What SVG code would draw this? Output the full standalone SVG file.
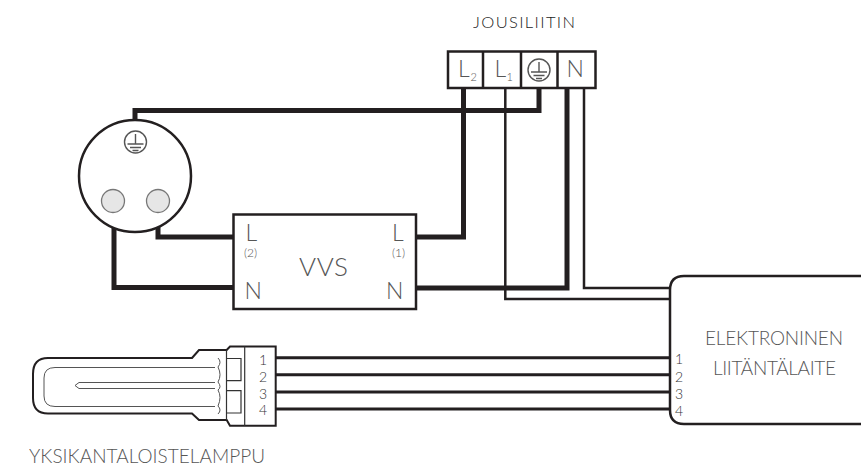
<svg xmlns="http://www.w3.org/2000/svg" xmlns:xlink="http://www.w3.org/1999/xlink" width="861" height="466" viewBox="0 0 861 466">
<style>
text{font-family:"Lato","Liberation Sans",sans-serif;font-weight:300;fill:#555;opacity:.99}
.blk{fill:#231f20}
.box{fill:#fff;stroke:#231f20;stroke-width:2.5}
.thick{fill:none;stroke:#231f20;stroke-width:5}
.thin{fill:none;stroke:#231f20;stroke-width:2.5}
.fine{fill:none;stroke:#555;stroke-width:1}
.sym{fill:none;stroke:#555;stroke-width:1.400}
.big{font-size:23px}
.small{font-size:12px}
.num{font-size:14px;text-anchor:middle;fill:#333}
.lab{font-size:19px}
</style>
<defs>
<g id="earth">
<circle r="11" class="sym"/>
<path class="sym" d="M0-8V2M-8 2H8M-5.500 5.500H5.500M-3 8.500H3"/>
</g>
</defs>
<g id="connectors">
<path class="thick" d="M463.500 88V237H417"/>
<path class="thin" d="M505.300 88V299H670"/>
<path class="thick" d="M539 88V110.500H135V124"/>
<path class="thick" d="M567 88V288H417"/>
<path class="thin" d="M584 88V288H670"/>
<path class="thick" d="M158 226V237H233"/>
<path class="thick" d="M114 226V287.500H233"/>
<path class="thin" d="M276 357.700H670M276 374.700H670M276 392H670M276 409H670" style="stroke-width:3"/>
</g>
<g id="terminal">
<rect class="box" x="448" y="51.500" width="147.500" height="36.500"/>
<path class="thin" d="M483 51.500V88M521 51.500V88M557.500 51.500V88"/>
<text x="473" y="28" font-size="16.500" textLength="102" style="fill:#222">JOUSILIITIN</text>
<text class="big" x="458" y="77">L</text><text x="470.500" y="81" font-size="11">2</text>
<text class="big" x="494.500" y="77">L</text><text x="506.500" y="81" font-size="11">1</text>
<use xlink:href="#earth" href="#earth" x="539" y="70"/>
<text class="big" x="566.500" y="77">N</text>
</g>
<g id="socket">
<circle cx="135" cy="176" r="56" fill="#fff" stroke="#231f20" stroke-width="2.500"/>
<use xlink:href="#earth" href="#earth" x="135.500" y="142"/>
<circle cx="113" cy="201" r="11.500" fill="#e6e6e6" stroke="#777" stroke-width="1.300"/>
<circle cx="158" cy="201" r="11.500" fill="#e6e6e6" stroke="#777" stroke-width="1.300"/>
</g>
<g id="vvs">
<rect class="box" x="233.500" y="214.500" width="182.500" height="94.500"/>
<text x="299" y="276" font-size="26" textLength="49">VVS</text>
<text class="big" x="245.500" y="241">L</text>
<text class="small" x="250.500" y="257" text-anchor="middle">(2)</text>
<text class="big" x="244.500" y="298.500">N</text>
<text class="big" x="392" y="241">L</text>
<text class="small" x="398.500" y="257" text-anchor="middle">(1)</text>
<text class="big" x="386" y="298.500">N</text>
</g>
<g id="ballast">
<path d="M862 276H684Q670 276 670 290V410Q670 424 684 424H862" fill="#fff" stroke="#231f20" stroke-width="2.500"/>
<text class="lab" x="705" y="345" textLength="138">ELEKTRONINEN</text>
<text class="lab" x="713" y="375" textLength="123">LIITÄNTÄLAITE</text>
<text class="num" x="679" y="364">1</text>
<text class="num" x="679" y="381.500">2</text>
<text class="num" x="679" y="398.500">3</text>
<text class="num" x="679" y="415.500">4</text>
</g>
<g id="lamp">
<path d="M192 358L199 350H226.700L230 346.500H275.700V425.700H230L226.700 420H199L192 413.500H48Q33 413.500 33 398V374Q33 358 48 358Z" fill="#fff" stroke="#231f20" stroke-width="2"/>
<path d="M244.700 346.500V425.700M226.500 350V420" fill="none" stroke="#333" stroke-width="1.200"/>
<path d="M226 358.500H241V380.700H226M226 390.700H241V413H226" fill="none" stroke="#333" stroke-width="1.200"/>
<path class="fine" d="M215 367.500H55Q44 367.500 44 378V396Q44 406.500 55 406.500H215"/>
<path class="fine" d="M215 382.500H79L75 385.500L79 388.500H215"/>
<path class="fine" d="M218 358Q222 362 218 367Q222 375 218 382Q222 387 218 390Q222 397 218 406Q222 410 218 414"/>
<text class="num" x="263" y="364.500">1</text>
<text class="num" x="263" y="382">2</text>
<text class="num" x="263" y="398.500">3</text>
<text class="num" x="263" y="415">4</text>
<text x="29" y="463" font-size="19" textLength="236">YKSIKANTALOISTELAMPPU</text>
</g>
</svg>
